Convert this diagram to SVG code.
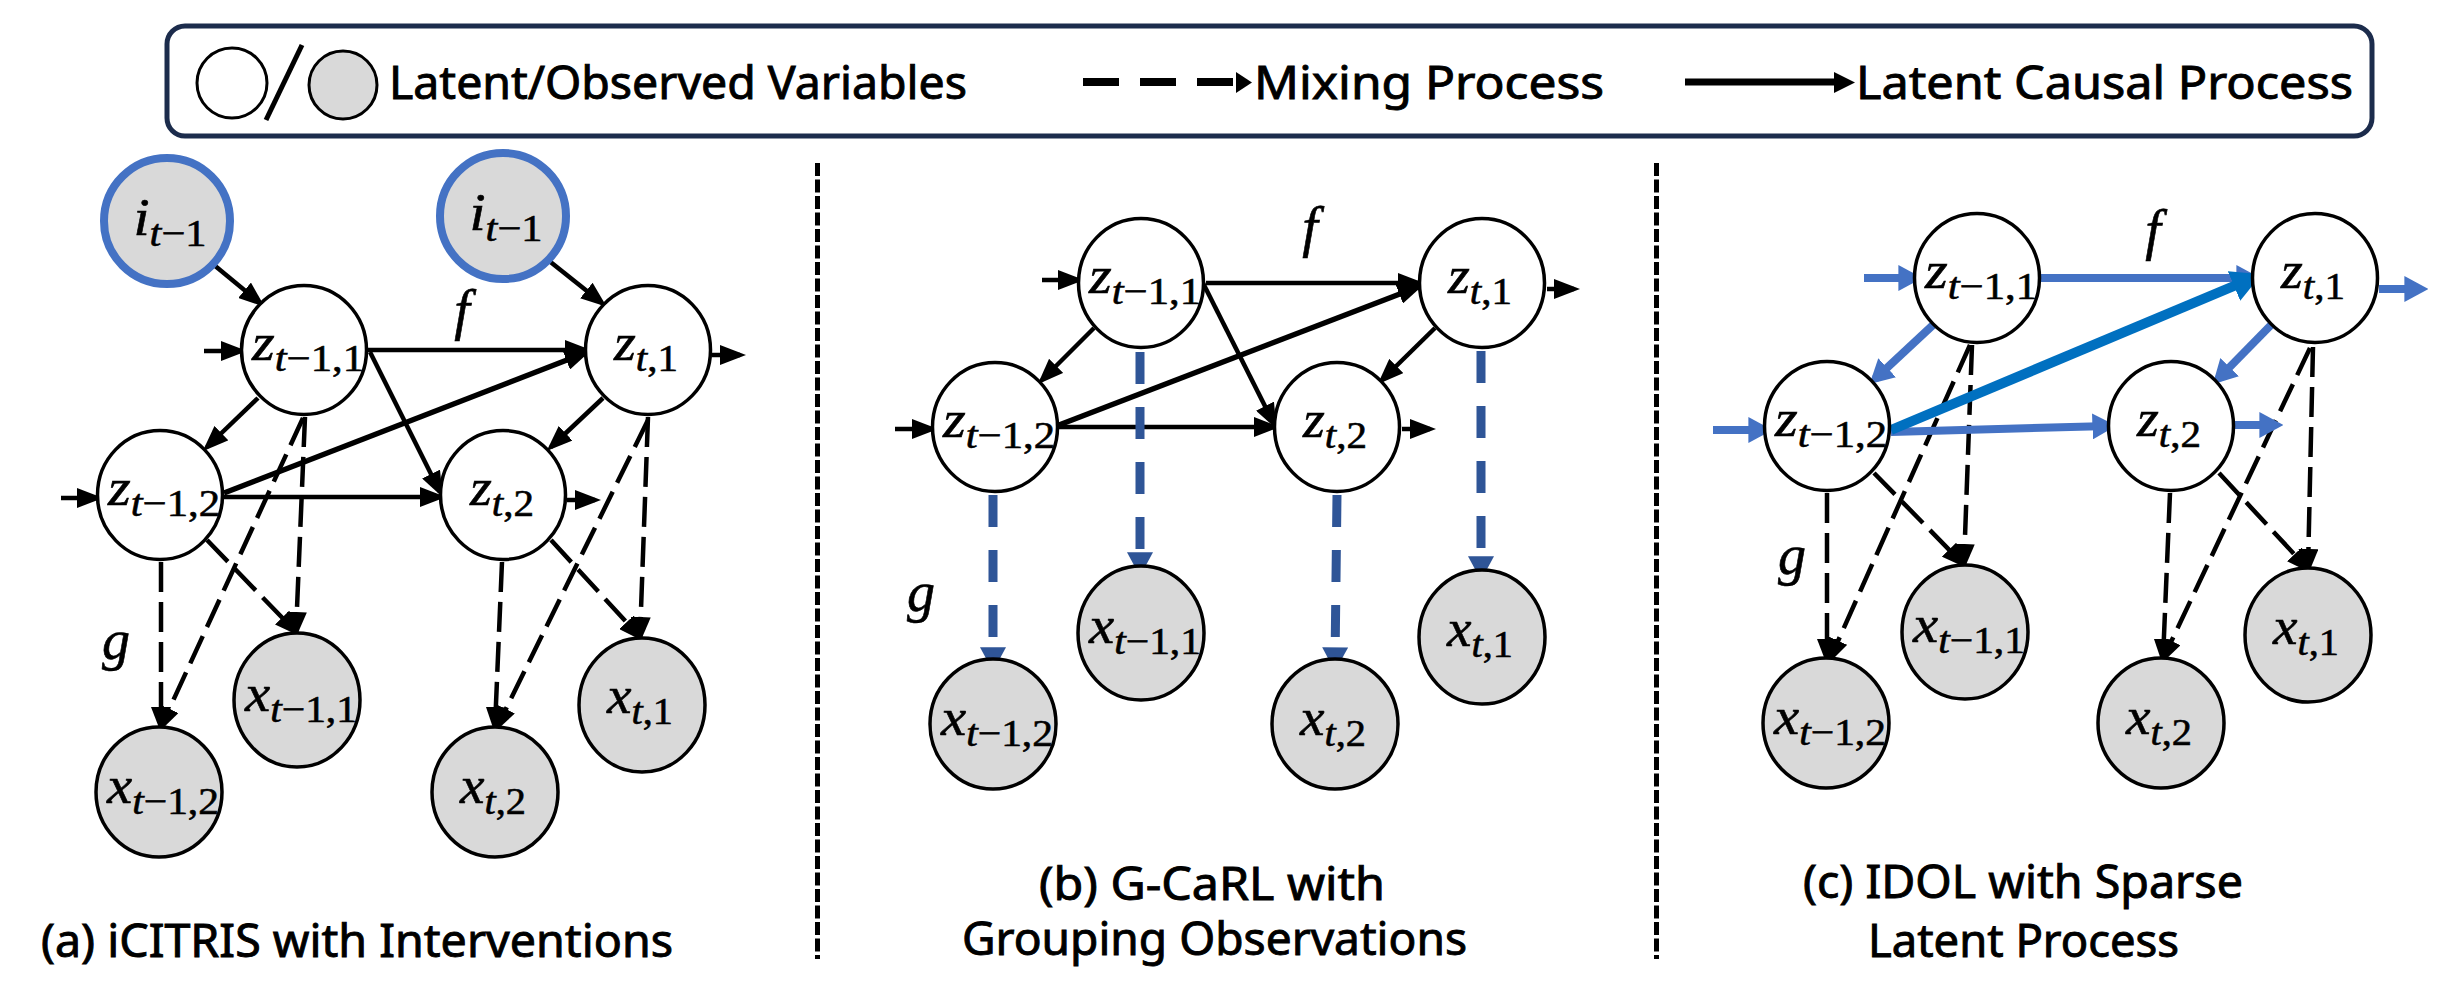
<svg xmlns="http://www.w3.org/2000/svg" width="2449" height="988" viewBox="0 0 2449 988">
<style>
.lat{fill:#fff;stroke:#000;stroke-width:3.5}
.obs{fill:#d9d9d9;stroke:#000;stroke-width:3.5}
.int{fill:#d9d9d9;stroke:#4472c4;stroke-width:8}
.sol{stroke:#000;stroke-width:4.5;fill:none;marker-end:url(#ah)}
.dsh{stroke:#000;stroke-width:4.5;fill:none;stroke-dasharray:30 10;marker-end:url(#ah)}
.bd{stroke:#2f5597;stroke-width:9;fill:none;stroke-dasharray:32 23;marker-end:url(#ahb)}
.bs{stroke:#4472c4;stroke-width:8;fill:none;marker-end:url(#ahc)}
.bk{stroke:#0070c0;stroke-width:10;fill:none;marker-end:url(#ahd)}
.div{stroke:#000;stroke-width:5;stroke-dasharray:13 3.5}
.m{font-family:"Liberation Serif","Times New Roman",serif;font-style:italic;font-size:52px;fill:#000;stroke:#000;stroke-width:0.6}
.fg{font-size:56px}
.s{font-size:38px}
.n{font-style:normal}
.cap{font-family:"Noto Sans","Open Sans",sans-serif;font-size:45px;fill:#000;stroke:#000;stroke-width:0.9}
</style>
<defs>
<marker id="ah" markerUnits="userSpaceOnUse" markerWidth="26" markerHeight="20" viewBox="0 0 26 20" refX="20" refY="10" orient="auto"><path d="M0,0 L26,10 L0,20 z" fill="#000"/></marker>
<marker id="ahb" markerUnits="userSpaceOnUse" markerWidth="24" markerHeight="26" viewBox="0 0 24 26" refX="15.7" refY="13" orient="auto"><path d="M0,0 L24,13 L0,26 z" fill="#2f5597"/></marker>
<marker id="ahc" markerUnits="userSpaceOnUse" markerWidth="24" markerHeight="26" viewBox="0 0 24 26" refX="16.6" refY="13" orient="auto"><path d="M0,0 L24,13 L0,26 z" fill="#4472c4"/></marker>
<marker id="ahd" markerUnits="userSpaceOnUse" markerWidth="30" markerHeight="32" viewBox="0 0 30 32" refX="20.6" refY="16" orient="auto"><path d="M0,0 L30,16 L0,32 z" fill="#0070c0"/></marker>
</defs>
<rect width="2449" height="988" fill="#fff"/>

<g id="legend">
<rect x="167" y="26" width="2205" height="110" rx="18" fill="#fff" stroke="#1c2c4c" stroke-width="5"/>
<circle cx="232" cy="83" r="35" fill="#fff" stroke="#000" stroke-width="3"/>
<line x1="302" y1="45" x2="266" y2="120" stroke="#000" stroke-width="5"/>
<circle cx="343" cy="85" r="34" fill="#d9d9d9" stroke="#000" stroke-width="3"/>
<text class="cap" x="389" y="99" font-size="46" textLength="578" lengthAdjust="spacingAndGlyphs">Latent/Observed Variables</text>
<line x1="1083" y1="82" x2="1236" y2="82" stroke="#000" stroke-width="8" stroke-dasharray="36 21"/>
<polygon points="1236,72 1252,82.5 1236,93" fill="#000"/>
<text class="cap" x="1254" y="99" font-size="46" textLength="350" lengthAdjust="spacingAndGlyphs">Mixing Process</text>
<line x1="1685" y1="82" x2="1836" y2="82" stroke="#000" stroke-width="7"/>
<polygon points="1834,72 1855,82.5 1834,93" fill="#000"/>
<text class="cap" x="1856" y="99" font-size="46" textLength="497" lengthAdjust="spacingAndGlyphs">Latent Causal Process</text>
</g>

<g id="dividers">
<line class="div" x1="817.5" y1="163" x2="817.5" y2="959"/>
<line class="div" x1="1656.5" y1="163" x2="1656.5" y2="959"/>
</g>

<g id="connectors">
<!-- panel a -->
<line class="sol" x1="214" y1="265" x2="260" y2="303"/>
<line class="sol" x1="548" y1="260" x2="602" y2="303"/>
<line class="sol" x1="204" y1="351" x2="241" y2="351"/>
<line class="sol" x1="61" y1="498" x2="97" y2="498"/>
<line class="sol" x1="368" y1="350" x2="585" y2="350"/>
<line class="sol" x1="370" y1="352" x2="440" y2="492"/>
<line class="sol" x1="224" y1="493" x2="585" y2="353" style="stroke-width:5.5"/>
<line class="sol" x1="224" y1="497" x2="440" y2="497"/>
<line class="sol" x1="258" y1="398" x2="207" y2="447"/>
<line class="sol" x1="603" y1="398" x2="551" y2="447"/>
<line class="sol" x1="712" y1="355" x2="740" y2="355"/>
<line class="sol" x1="567" y1="500" x2="595" y2="500"/>
<line class="dsh" x1="305" y1="417" x2="296" y2="632"/>
<line class="dsh" x1="303" y1="418" x2="161" y2="727"/>
<line class="dsh" x1="161" y1="562" x2="161" y2="727"/>
<line class="dsh" x1="207" y1="540" x2="296" y2="632"/>
<line class="dsh" x1="648" y1="417" x2="640" y2="637"/>
<line class="dsh" x1="648" y1="420" x2="497" y2="727"/>
<line class="dsh" x1="502" y1="562" x2="495" y2="727"/>
<line class="dsh" x1="551" y1="540" x2="640" y2="637"/>
<!-- panel b -->
<line class="sol" x1="1042" y1="280" x2="1078" y2="280"/>
<line class="sol" x1="895" y1="429" x2="932" y2="429"/>
<line class="sol" x1="1547" y1="289" x2="1574" y2="289"/>
<line class="sol" x1="1402" y1="429" x2="1430" y2="429"/>
<line class="sol" x1="1206" y1="283" x2="1418" y2="283"/>
<line class="sol" x1="1203" y1="283" x2="1274" y2="424"/>
<line class="sol" x1="1059" y1="425" x2="1418" y2="287" style="stroke-width:5.5"/>
<line class="sol" x1="1059" y1="427" x2="1274" y2="427"/>
<line class="sol" x1="1094" y1="328" x2="1042" y2="380"/>
<line class="sol" x1="1435" y1="328" x2="1382" y2="380"/>
<line class="bd" x1="1140" y1="352" x2="1140" y2="568"/>
<line class="bd" x1="1481" y1="351" x2="1481" y2="572"/>
<line class="bd" x1="993" y1="495" x2="993" y2="663"/>
<line class="bd" x1="1337" y1="495" x2="1335" y2="663"/>
<!-- panel c -->
<line class="dsh" x1="1972" y1="345" x2="1964" y2="564"/>
<line class="dsh" x1="1970" y1="345" x2="1830" y2="659"/>
<line class="dsh" x1="1827" y1="493" x2="1827" y2="659"/>
<line class="dsh" x1="1874" y1="473" x2="1963" y2="564"/>
<line class="dsh" x1="2313" y1="347" x2="2308" y2="569"/>
<line class="dsh" x1="2310" y1="348" x2="2163" y2="659"/>
<line class="dsh" x1="2170" y1="493" x2="2163" y2="659"/>
<line class="dsh" x1="2219" y1="473" x2="2308" y2="569"/>
<line class="bs" x1="1864" y1="278" x2="1915" y2="278"/>
<line class="bs" x1="1713" y1="430" x2="1765" y2="430"/>
<line class="bs" x1="2041" y1="278" x2="2253" y2="278"/>
<line class="bs" x1="2379" y1="289" x2="2421" y2="289"/>
<line class="bs" x1="1933" y1="325" x2="1875" y2="379"/>
<line class="bs" x1="2271" y1="325" x2="2218" y2="379"/>
<line class="bs" x1="1891" y1="432" x2="2109" y2="426"/>
<line class="bs" x1="2235" y1="425" x2="2276" y2="425"/>
<line class="bk" x1="1891" y1="430" x2="2253" y2="278"/>
</g>

<!-- panel a nodes -->
<g id="a_i1"><ellipse class="int" cx="167" cy="221" rx="63" ry="63"/><text class="m" x="170" y="235" text-anchor="middle" textLength="73" lengthAdjust="spacingAndGlyphs">i<tspan class="s" dy="11">t</tspan><tspan class="s n">−1</tspan></text></g>
<g id="a_i2"><ellipse class="int" cx="503" cy="216" rx="63" ry="63"/><text class="m" x="506" y="230" text-anchor="middle" textLength="73" lengthAdjust="spacingAndGlyphs">i<tspan class="s" dy="11">t</tspan><tspan class="s n">−1</tspan></text></g>
<g id="a_z11"><ellipse class="lat" cx="304" cy="350" rx="62.5" ry="64.5"/><text class="m" x="308" y="360" text-anchor="middle" textLength="112" lengthAdjust="spacingAndGlyphs">z<tspan class="s" dy="11">t</tspan><tspan class="s n">−1,1</tspan></text></g>
<g id="a_z1"><ellipse class="lat" cx="648" cy="350" rx="62.5" ry="64.5"/><text class="m" x="646" y="360" text-anchor="middle" textLength="64" lengthAdjust="spacingAndGlyphs">z<tspan class="s" dy="11">t</tspan><tspan class="s n">,1</tspan></text></g>
<g id="a_z12"><ellipse class="lat" cx="160" cy="495" rx="62.5" ry="64.5"/><text class="m" x="164" y="505" text-anchor="middle" textLength="112" lengthAdjust="spacingAndGlyphs">z<tspan class="s" dy="11">t</tspan><tspan class="s n">−1,2</tspan></text></g>
<g id="a_z2"><ellipse class="lat" cx="503" cy="495" rx="62.5" ry="64.5"/><text class="m" x="502" y="505" text-anchor="middle" textLength="64" lengthAdjust="spacingAndGlyphs">z<tspan class="s" dy="11">t</tspan><tspan class="s n">,2</tspan></text></g>
<g id="a_x11"><ellipse class="obs" cx="297" cy="700" rx="63" ry="67"/><text class="m" x="301" y="711" text-anchor="middle" textLength="112" lengthAdjust="spacingAndGlyphs">x<tspan class="s" dy="11">t</tspan><tspan class="s n">−1,1</tspan></text></g>
<g id="a_x1"><ellipse class="obs" cx="642" cy="705" rx="63" ry="67"/><text class="m" x="640" y="713" text-anchor="middle" textLength="66" lengthAdjust="spacingAndGlyphs">x<tspan class="s" dy="11">t</tspan><tspan class="s n">,1</tspan></text></g>
<g id="a_x12"><ellipse class="obs" cx="159" cy="792" rx="63" ry="65"/><text class="m" x="163" y="803" text-anchor="middle" textLength="112" lengthAdjust="spacingAndGlyphs">x<tspan class="s" dy="11">t</tspan><tspan class="s n">−1,2</tspan></text></g>
<g id="a_x2"><ellipse class="obs" cx="495" cy="792" rx="63" ry="65"/><text class="m" x="493" y="803" text-anchor="middle" textLength="66" lengthAdjust="spacingAndGlyphs">x<tspan class="s" dy="11">t</tspan><tspan class="s n">,2</tspan></text></g>
<g id="a_labels"><text class="m fg" x="462" y="329" text-anchor="middle">f</text><text class="m fg" x="116" y="659" text-anchor="middle">g</text></g>

<!-- panel b nodes -->
<g id="b_z11"><ellipse class="lat" cx="1141" cy="283" rx="62.5" ry="64.5"/><text class="m" x="1145" y="293" text-anchor="middle" textLength="112" lengthAdjust="spacingAndGlyphs">z<tspan class="s" dy="11">t</tspan><tspan class="s n">−1,1</tspan></text></g>
<g id="b_z1"><ellipse class="lat" cx="1482" cy="283" rx="62.5" ry="64.5"/><text class="m" x="1480" y="293" text-anchor="middle" textLength="64" lengthAdjust="spacingAndGlyphs">z<tspan class="s" dy="11">t</tspan><tspan class="s n">,1</tspan></text></g>
<g id="b_z12"><ellipse class="lat" cx="995" cy="427" rx="62.5" ry="64.5"/><text class="m" x="999" y="437" text-anchor="middle" textLength="112" lengthAdjust="spacingAndGlyphs">z<tspan class="s" dy="11">t</tspan><tspan class="s n">−1,2</tspan></text></g>
<g id="b_z2"><ellipse class="lat" cx="1337" cy="427" rx="62.5" ry="64.5"/><text class="m" x="1335" y="437" text-anchor="middle" textLength="64" lengthAdjust="spacingAndGlyphs">z<tspan class="s" dy="11">t</tspan><tspan class="s n">,2</tspan></text></g>
<g id="b_x11"><ellipse class="obs" cx="1141" cy="633" rx="63" ry="67"/><text class="m" x="1145" y="643" text-anchor="middle" textLength="112" lengthAdjust="spacingAndGlyphs">x<tspan class="s" dy="11">t</tspan><tspan class="s n">−1,1</tspan></text></g>
<g id="b_x1"><ellipse class="obs" cx="1482" cy="637" rx="63" ry="67"/><text class="m" x="1480" y="646" text-anchor="middle" textLength="66" lengthAdjust="spacingAndGlyphs">x<tspan class="s" dy="11">t</tspan><tspan class="s n">,1</tspan></text></g>
<g id="b_x12"><ellipse class="obs" cx="993" cy="724" rx="63" ry="65"/><text class="m" x="997" y="735" text-anchor="middle" textLength="112" lengthAdjust="spacingAndGlyphs">x<tspan class="s" dy="11">t</tspan><tspan class="s n">−1,2</tspan></text></g>
<g id="b_x2"><ellipse class="obs" cx="1335" cy="724" rx="63" ry="65"/><text class="m" x="1333" y="735" text-anchor="middle" textLength="66" lengthAdjust="spacingAndGlyphs">x<tspan class="s" dy="11">t</tspan><tspan class="s n">,2</tspan></text></g>
<g id="b_labels"><text class="m fg" x="1310" y="246" text-anchor="middle">f</text><text class="m fg" x="921" y="611" text-anchor="middle">g</text></g>

<!-- panel c nodes -->
<g id="c_z11"><ellipse class="lat" cx="1977" cy="278" rx="62.5" ry="64.5"/><text class="m" x="1981" y="288" text-anchor="middle" textLength="112" lengthAdjust="spacingAndGlyphs">z<tspan class="s" dy="11">t</tspan><tspan class="s n">−1,1</tspan></text></g>
<g id="c_z1"><ellipse class="lat" cx="2315" cy="278" rx="62.5" ry="64.5"/><text class="m" x="2313" y="288" text-anchor="middle" textLength="64" lengthAdjust="spacingAndGlyphs">z<tspan class="s" dy="11">t</tspan><tspan class="s n">,1</tspan></text></g>
<g id="c_z12"><ellipse class="lat" cx="1827" cy="426" rx="62.5" ry="64.5"/><text class="m" x="1831" y="436" text-anchor="middle" textLength="112" lengthAdjust="spacingAndGlyphs">z<tspan class="s" dy="11">t</tspan><tspan class="s n">−1,2</tspan></text></g>
<g id="c_z2"><ellipse class="lat" cx="2171" cy="426" rx="62.5" ry="64.5"/><text class="m" x="2169" y="436" text-anchor="middle" textLength="64" lengthAdjust="spacingAndGlyphs">z<tspan class="s" dy="11">t</tspan><tspan class="s n">,2</tspan></text></g>
<g id="c_x11"><ellipse class="obs" cx="1965" cy="632" rx="63" ry="67"/><text class="m" x="1969" y="642" text-anchor="middle" textLength="112" lengthAdjust="spacingAndGlyphs">x<tspan class="s" dy="11">t</tspan><tspan class="s n">−1,1</tspan></text></g>
<g id="c_x1"><ellipse class="obs" cx="2308" cy="635" rx="63" ry="67"/><text class="m" x="2306" y="644" text-anchor="middle" textLength="66" lengthAdjust="spacingAndGlyphs">x<tspan class="s" dy="11">t</tspan><tspan class="s n">,1</tspan></text></g>
<g id="c_x12"><ellipse class="obs" cx="1826" cy="723" rx="63" ry="65"/><text class="m" x="1830" y="734" text-anchor="middle" textLength="112" lengthAdjust="spacingAndGlyphs">x<tspan class="s" dy="11">t</tspan><tspan class="s n">−1,2</tspan></text></g>
<g id="c_x2"><ellipse class="obs" cx="2161" cy="723" rx="63" ry="65"/><text class="m" x="2159" y="734" text-anchor="middle" textLength="66" lengthAdjust="spacingAndGlyphs">x<tspan class="s" dy="11">t</tspan><tspan class="s n">,2</tspan></text></g>
<g id="c_labels"><text class="m fg" x="2153" y="249" text-anchor="middle">f</text><text class="m fg" x="1792" y="574" text-anchor="middle">g</text></g>

<g id="captions">
<text class="cap" x="41" y="957" textLength="632" lengthAdjust="spacingAndGlyphs">(a) iCITRIS with Interventions</text>
<text class="cap" x="1039" y="900" textLength="346" lengthAdjust="spacingAndGlyphs">(b) G-CaRL with</text>
<text class="cap" x="962" y="955" textLength="505" lengthAdjust="spacingAndGlyphs">Grouping Observations</text>
<text class="cap" x="1803" y="898" textLength="440" lengthAdjust="spacingAndGlyphs">(c) IDOL with Sparse</text>
<text class="cap" x="1868" y="957" textLength="311" lengthAdjust="spacingAndGlyphs">Latent Process</text>
</g>
</svg>
